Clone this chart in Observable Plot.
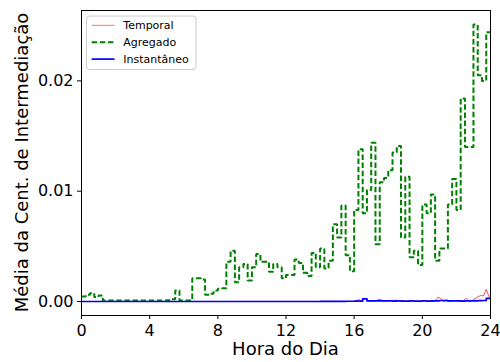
<!DOCTYPE html>
<html>
<head>
<meta charset="utf-8">
<script src="https://cdn.jsdelivr.net/npm/d3@7"></script>
<script src="https://cdn.jsdelivr.net/npm/@observablehq/plot@0.6"></script>
<style>
  body { margin: 0; background: #fff; }
</style>
</head>
<body>
<div id="chart"></div>
<script>
// Mean betweenness centrality over the day.
// "Agregado" and "Instantâneo" are 15-minute bins (96 per day);
// "Temporal" is sampled every 10 minutes (144 per day).
const seriesNames = ["Temporal", "Agregado", "Instantâneo"];
const seriesColors = ["red", "green", "blue"];
const xTicks = [0, 4, 8, 12, 16, 20, 24];
const yTicks = [0, 0.01, 0.02];

const agregado = [
  0.00045, 0.0006, 0.00075, 0.0004,     // 0h
  0.00055, 0.0001, 0.0001, 0.0001,      // 1h
  0.0001, 0.0001, 0.0001, 0.0001,       // 2h
  0.0001, 0.0001, 0.0001, 0.0001,       // 3h
  0.0001, 0.0001, 0.0001, 0.0001,       // 4h
  0.00012, 0.0002, 0.001, 0.0001,       // 5h
  0.0001, 0.0001, 0.0021, 0.0021,       // 6h
  0.002, 0.0006, 0.0007, 0.001,         // 7h
  0.00115, 0.0012, 0.0036, 0.0046,      // 8h
  0.00175, 0.0031, 0.0034, 0.0019,      // 9h
  0.0031, 0.0043, 0.0036, 0.0036,       // 10h
  0.0027, 0.0034, 0.0031, 0.0021,       // 11h
  0.0024, 0.0024, 0.0038, 0.0035,       // 12h
  0.0026, 0.0023, 0.0044, 0.0031,       // 13h
  0.0048, 0.003, 0.0037, 0.007,         // 14h
  0.0058, 0.0087, 0.0042, 0.00275,      // 15h
  0.0083, 0.0138, 0.008, 0.0101,        // 16h
  0.0144, 0.0052, 0.0108, 0.0112,       // 17h
  0.0119, 0.0135, 0.0141, 0.0058,       // 18h
  0.0113, 0.004, 0.0046, 0.0033,        // 19h
  0.0088, 0.008, 0.0097, 0.0037,        // 20h
  0.0048, 0.0048, 0.0088, 0.0111,       // 21h
  0.0083, 0.0184, 0.014, 0.014,         // 22h
  0.0251, 0.0205, 0.02, 0.0244          // 23h
];

const instantaneo = [
  0, 0, 0, 0,  0, 0, 0, 0,  0, 0, 0, 0,  0, 0, 0, 0,          // 0h-3h
  0, 0, 0, 0,  0, 0, 0, 0,  0, 0, 0, 0,  0, 0, 0, 0,          // 4h-7h
  0, 0, 0, 0,  0, 0, 0, 0,  0, 0, 0, 0,  0, 0, 0, 0,          // 8h-11h
  0, 0, 0, 0,  0, 0, 0, 0,  0.00001, 0.00001, 0.00001, 0.00001, // 12h-14h
  0.00001, 0.00001, 0.00002, 0.00002,                         // 15h
  0.00003, 0.00003, 0.00025, 0.00005,                         // 16h
  0.00005, 0.00005, 0.00006, 0.00005,                         // 17h
  0.00005, 0.00004, 0.00005, 0.00004,                         // 18h
  0.00004, 0.00005, 0.00004, 0.00004,                         // 19h
  0.00005, 0.00004, 0.00005, 0.00006,                         // 20h
  0.00009, 0.00007, 0.00005, 0.00005,                         // 21h
  0.00005, 0.00004, 0.00005, 0.00005,                         // 22h
  0.00006, 0.00007, 0.00009, 0.00028                          // 23h
];

const temporal = [
  0, 0, 0, 0, 0, 0,   0, 0, 0, 0, 0, 0,   0, 0, 0, 0, 0, 0,   0, 0, 0, 0, 0, 0,  // 0h-3h
  0, 0, 0, 0, 0, 0,   0, 0, 0, 0, 0, 0,   0, 0, 0, 0, 0, 0,   0, 0, 0, 0, 0, 0,  // 4h-7h
  0, 0, 0, 0, 0, 0,   0, 0, 0, 0, 0, 0,   0, 0, 0, 0, 0, 0,   0, 0, 0, 0, 0, 0,  // 8h-11h
  0, 0, 0, 0, 0, 0,   0, 0, 0, 0, 0, 0,   0, 0, 0, 0, 0, 0,   0, 0, 0, 0, 0, 0,  // 12h-15h
  0.00003, 0.0002, 0.00005, 0.0002, 0.00015, 0.00003,     // 16h
  0.0001, 0.00003, 0.0002, 0.00015, 0.00004, 0.00003,     // 17h
  0.00012, 0.00003, 0.00015, 0.00003, 0.0001, 0.00003,    // 18h
  0.00003, 0.0001, 0.00002, 0.00004, 0.00003, 0.00002,    // 19h
  0.0001, 0.00003, 0.00002, 0.00005, 0.00003, 0.0004,     // 20h
  0.00025, 0.00004, 0.00015, 0.00003, 0.00006, 0.0001,    // 21h
  0.00003, 0.00005, 0.0001, 0.0003, 0.00004, 0.00008,     // 22h
  0.00025, 0.0004, 0.00055, 0.0005, 0.0011, 0.0004        // 23h
];

// Binned series become step lines: each value holds from its bin start,
// with a closing point at the end of the last bin.
function stepRows(values, binHours) {
  const rows = values.map((v, i) => ({ h: i * binHours, v }));
  rows.push({ h: values.length * binHours, v: values[values.length - 1] });
  return rows;
}
const aggRows = stepRows(agregado, 0.25);
const instRows = stepRows(instantaneo, 0.25);
const tempRows = temporal.map((v, i) => ({ h: (i + 0.5) / 6, v }));

const dash = "5.5,2.6";

const chart = Plot.plot({
  width: 500,
  height: 362,
  marginLeft: 81,
  marginRight: 10,
  marginTop: 10,
  marginBottom: 47,
  style: { fontFamily: "'DejaVu Sans', sans-serif", fontSize: "16px", color: "black", background: "white" },
  x: { domain: [0, 24], ticks: xTicks, tickFormat: d => String(d), tickSize: 4, tickPadding: 5, label: null },
  y: { domain: [-0.00127, 0.02638], ticks: yTicks, tickFormat: d3.format(".2f"), tickSize: 4, tickPadding: 4, label: null },
  marks: [
    Plot.line(tempRows, { x: "h", y: "v", stroke: seriesColors[0], strokeOpacity: 0.7, strokeWidth: 1 }),
    Plot.line(aggRows, { x: "h", y: "v", curve: "step-after", stroke: seriesColors[1], strokeWidth: 2, strokeDasharray: dash, strokeLinecap: "butt", strokeLinejoin: "miter" }),
    Plot.line(instRows, { x: "h", y: "v", curve: "step-after", stroke: seriesColors[2], strokeWidth: 1.7, strokeLinecap: "butt" }),
    Plot.frame({ stroke: "black", strokeWidth: 1 })
  ]
});
document.getElementById("chart").appendChild(chart);

const svg = d3.select(chart);

// Axis titles
svg.append("text")
  .attr("x", 285.5).attr("y", 355)
  .attr("text-anchor", "middle")
  .attr("font-size", 18)
  .attr("fill", "black")
  .text("Hora do Dia");
svg.append("text")
  .attr("transform", "translate(28,162.5) rotate(-90)")
  .attr("text-anchor", "middle")
  .attr("font-size", 18)
  .attr("fill", "black")
  .text("Média da Cent. de Intermediação");

// Legend box in the upper-left corner of the plot area
const legend = svg.append("g");
legend.append("rect")
  .attr("x", 86.5).attr("y", 16).attr("width", 109.5).attr("height", 53.5)
  .attr("rx", 3)
  .attr("fill", "white").attr("fill-opacity", 0.8)
  .attr("stroke", "#cccccc").attr("stroke-width", 1);
const legendStyles = [
  { opacity: 0.55, width: 1, dash: null },
  { opacity: 1, width: 2, dash: dash },
  { opacity: 1, width: 1.7, dash: null }
];
seriesNames.forEach((name, i) => {
  const y = 25.3 + i * 16.9;
  legend.append("line")
    .attr("x1", 91.7).attr("x2", 114.5).attr("y1", y).attr("y2", y)
    .attr("stroke", seriesColors[i])
    .attr("stroke-opacity", legendStyles[i].opacity)
    .attr("stroke-width", legendStyles[i].width)
    .attr("stroke-dasharray", legendStyles[i].dash);
  legend.append("text")
    .attr("x", 123.3).attr("y", y)
    .attr("dy", "0.35em")
    .attr("text-anchor", "start")
    .attr("font-size", 11)
    .attr("fill", "black")
    .text(name);
});
</script>
</body>
</html>
